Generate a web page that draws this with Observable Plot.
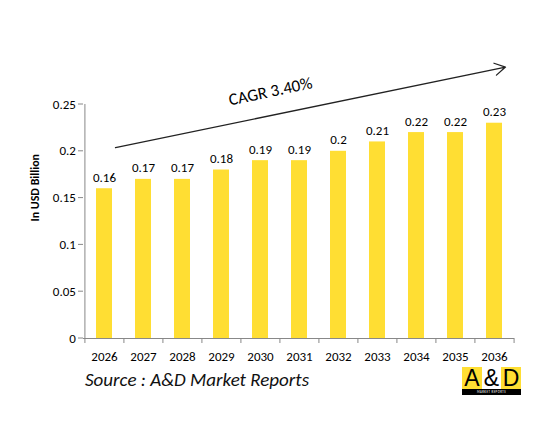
<!DOCTYPE html>
<html>
<head>
<meta charset="utf-8">
<script src="https://cdn.jsdelivr.net/npm/d3@7"></script>
<script src="https://cdn.jsdelivr.net/npm/@observablehq/plot@0.6"></script>
<style>
  html, body { margin: 0; padding: 0; background: #fff; }
  body { width: 551px; height: 431px; overflow: hidden; font-family: Carlito, Lato, sans-serif; }
  #wrap { position: relative; width: 551px; height: 431px; }
  #caption { position: absolute; left: 85px; top: 368px; font-style: italic; font-size: 19px; color: #111; }
  #logo { position: absolute; left: 462px; top: 367px; width: 59px; height: 28px; }
  #logo .row { display: flex; height: 22px; }
  #logo .row span { flex: 1; text-align: center; font-size: 23px; line-height: 22px; font-family: "Liberation Sans", Arial, sans-serif; color: #000; }
  #logo .y { background: #FFDE33; }
  #logo .w { background: #fff; }
  #logo .bar { background: #000; color: #fff; font-size: 3px; height: 6px; line-height: 6px; text-align: center; letter-spacing: 0.5px; }
</style>
</head>
<body>
<div id="wrap">
  <div id="chart"></div>
  <div id="caption">Source : A&amp;D Market Reports</div>
  <div id="logo">
    <div class="row"><span class="y">A</span><span class="w">&amp;</span><span class="y">D</span></div>
    <div class="bar">MARKET REPORTS</div>
  </div>
</div>
<script>
const years = ["2026","2027","2028","2029","2030","2031","2032","2033","2034","2035","2036"];
const values = [0.16,0.17,0.17,0.18,0.19,0.19,0.2,0.21,0.22,0.22,0.23];
const yTicks = [0,0.05,0.1,0.15,0.2,0.25];
const cagrLabel = "CAGR 3.40%";
const yLabel = "In USD Billion";

const data = years.map((y, i) => ({year: y, value: values[i]}));

const W = 551, H = 365;
const mL = 83, mR = 37, mT = 104, mB = 27;
const step = (W - mL - mR) / years.length;
const pxPerUnit = (H - mT - mB) / 0.25;
const tickLen = 5 / pxPerUnit;

const font = "Carlito, Lato, sans-serif";

const chart = Plot.plot({
  width: W,
  height: H,
  marginLeft: mL,
  marginRight: mR,
  marginTop: mT,
  marginBottom: mB,
  style: {fontFamily: font, fontSize: "13px", color: "#000", background: "#fff", overflow: "visible"},
  x: {domain: years, paddingInner: 0.6, paddingOuter: 0.3, axis: null},
  y: {domain: [0, 0.25], axis: null},
  marks: [
    Plot.barY(data, {x: "year", y: "value", fill: "#FFDE33"}),
    Plot.text(data, {x: "year", y: "value", text: d => String(d.value), dy: -7, lineAnchor: "bottom", fontSize: 13, fill: "#000"}),
    // y axis
    Plot.ruleX([years[0]], {dx: -step / 2, y1: 0, y2: 0.25, stroke: "#888"}),
    Plot.text(yTicks, {x: () => years[0], y: d => d, text: d => String(d), dx: -step / 2 - 9, textAnchor: "end", fontSize: 13, fill: "#000"}),
    // x axis
    Plot.ruleY([0], {stroke: "#888"}),
    Plot.ruleX(years, {x: d => d, dx: -step / 2, y1: 0, y2: -tickLen, stroke: "#888"}),
    Plot.ruleX([years[years.length - 1]], {dx: step / 2, y1: 0, y2: -tickLen, stroke: "#888"}),
    Plot.text(years, {x: d => d, y: 0, text: d => d, dy: 18, fontSize: 13, fill: "#000"}),
    // y axis label
    Plot.text([yLabel], {frameAnchor: "left", dx: -mL + 35, rotate: -90, fontWeight: "bold", fontSize: 12, fill: "#000"}),
    // CAGR arrow and text
    Plot.arrow([{x1: years[0], x2: years[years.length - 1], y1: 0.204, y2: 0.29}], {x1: "x1", x2: "x2", y1: "y1", y2: "y2", dx: 11, bend: 0, stroke: "#222", strokeWidth: 1.3, headLength: 14}),
    Plot.text([cagrLabel], {x: () => years[4], y: () => 0.264, dx: 10, rotate: -12, fontSize: 17, fill: "#000"})
  ]
});

// short y-axis ticks to the left of the axis, positioned through the y scale
const ys = chart.scale("y");
const g = d3.select(chart).append("g").attr("stroke", "#888");
yTicks.forEach(t => {
  g.append("line").attr("x1", mL - 5).attr("x2", mL).attr("y1", ys.apply(t)).attr("y2", ys.apply(t));
});

document.getElementById("chart").appendChild(chart);
</script>
</body>
</html>
